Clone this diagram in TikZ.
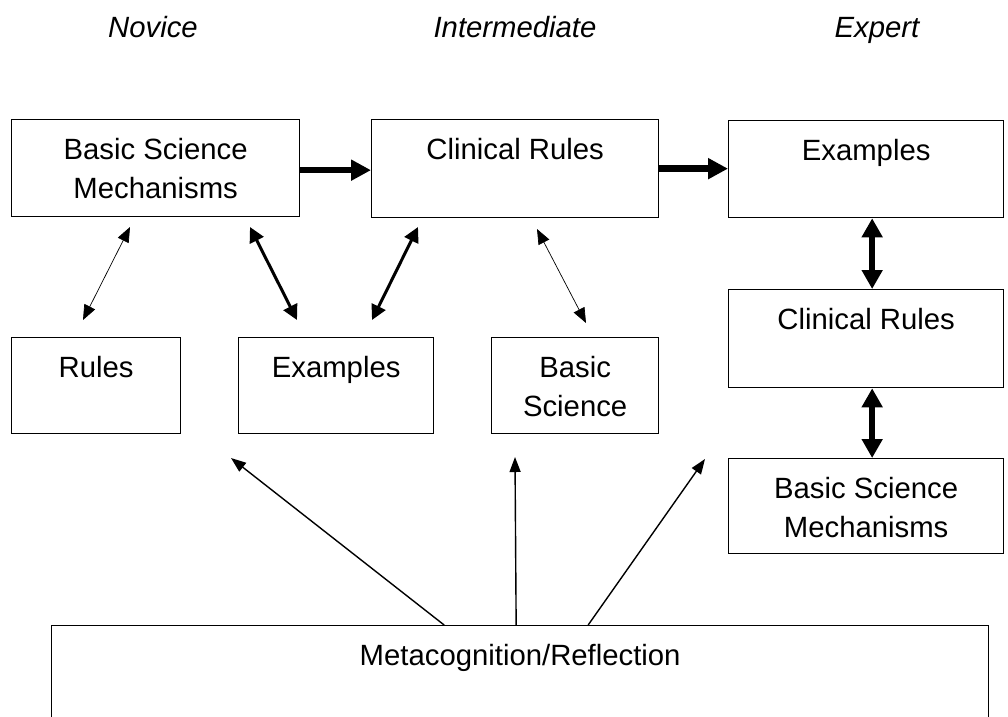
\documentclass[tikz,border=0pt]{standalone}
\usepackage{fontspec}
\setmainfont{Liberation Sans}
\usetikzlibrary{arrows.meta,calc}

\begin{document}
\begin{tikzpicture}[x=1pt, y=-1pt, line cap=butt,
  box/.style={draw, line width=1.3pt, rectangle, inner sep=0pt, anchor=north west},
  lbl/.style={anchor=north, inner sep=0pt, align=center, font=\fontsize{29.3}{39.3}\selectfont},
  hdr/.style={anchor=base, inner sep=0pt, font=\fontsize{29.3}{39.3}\selectfont\itshape},
  bigarr/.style={line width=6.5pt, {Triangle[length=19pt,width=20pt]}-{Triangle[length=19pt,width=20pt]}},
  fwdarr/.style={line width=6.5pt, -{Triangle[length=20pt,width=20pt]}},
  midarr/.style={line width=3pt, {Triangle[length=15pt,width=15pt]}-{Triangle[length=15pt,width=15pt]}},
  thinarr/.style={line width=0.7pt, {Triangle[length=15pt,width=12pt]}-{Triangle[length=15pt,width=12pt]}},
  metaarr/.style={line width=1.4pt, -{Triangle[length=15pt,width=11pt]}}]

\path[use as bounding box, clip] (0,0) rectangle (1008,716) ;

% stage headings
\node[hdr] (novice) at (153,37) {Novice} ;
\node[hdr] (interm) at (515,37) {Intermediate} ;
\node[hdr] (expert) at (877,37) {Expert} ;

% boxes
\node[box, minimum width=288, minimum height=97] (bsm) at (11,119) {} ;
\node[box, minimum width=287, minimum height=98] (cr) at (371,119) {} ;
\node[box, minimum width=275, minimum height=97] (exa) at (728,120) {} ;
\node[box, minimum width=275, minimum height=98] (excr) at (728,289) {} ;
\node[box, minimum width=275, minimum height=95] (exbsm) at (728,458) {} ;
\node[box, minimum width=169, minimum height=96] (rules) at (11,337) {} ;
\node[box, minimum width=195, minimum height=96] (nex) at (238,337) {} ;
\node[box, minimum width=167, minimum height=96] (bsci) at (491,337) {} ;
\node[box, minimum width=937, minimum height=140] (meta) at (51,625) {} ;

\node[lbl] (bsm-t) at ([yshift=-19]bsm.north) {Basic Science\\Mechanisms} ;
\node[lbl] (cr-t) at ([yshift=-19]cr.north) {Clinical Rules} ;
\node[lbl] (exa-t) at ([yshift=-19]exa.north) {Examples} ;
\node[lbl] (excr-t) at ([yshift=-19]excr.north) {Clinical Rules} ;
\node[lbl] (exbsm-t) at ([yshift=-19]exbsm.north) {Basic Science\\Mechanisms} ;
\node[lbl] (rules-t) at ([yshift=-19]rules.north) {Rules} ;
\node[lbl] (nex-t) at ([yshift=-19]nex.north) {Examples} ;
\node[lbl] (bsci-t) at ([yshift=-19]bsci.north) {Basic\\Science} ;
\node[lbl] (meta-t) at ([yshift=-19]meta.north) {Metacognition/Reflection} ;

% progression
\draw[fwdarr] ([yshift=-2]bsm.east) -- ([yshift=-2]bsm.east -| cr.west) ;
\draw[fwdarr] (cr.east) -- (cr.east -| exa.west) ;
\draw[bigarr] ([xshift=6]exa.south) -- ([xshift=6]excr.north) ;
\draw[bigarr] ([xshift=6]excr.south) -- ([xshift=6]exbsm.north) ;

% links between levels
\coordinate (p1) at (130,227) ; \coordinate (q1) at (83,320) ;
\coordinate (p2) at (250,227) ; \coordinate (q2) at (297,320) ;
\coordinate (p3) at (418,227) ; \coordinate (q3) at (372,320) ;
\coordinate (p4) at (537,229) ; \coordinate (q4) at (586,323) ;
\draw[thinarr] (p1) -- (q1) ;
\draw[midarr] (p2) -- (q2) ;
\draw[midarr] (p3) -- (q3) ;
\draw[thinarr] (p4) -- (q4) ;

% reflection
\coordinate (m1) at ([xshift=-76]meta.north) ; \coordinate (t1) at (231,458) ;
\coordinate (m2) at ([xshift=-4]meta.north) ;  \coordinate (t2) at (515,457) ;
\coordinate (m3) at ([xshift=68]meta.north) ;  \coordinate (t3) at (705,459) ;
\draw[metaarr] (m1) -- (t1) ;
\draw[metaarr] (m2) -- (t2) ;
\draw[metaarr] (m3) -- (t3) ;

\end{tikzpicture}
\end{document}
